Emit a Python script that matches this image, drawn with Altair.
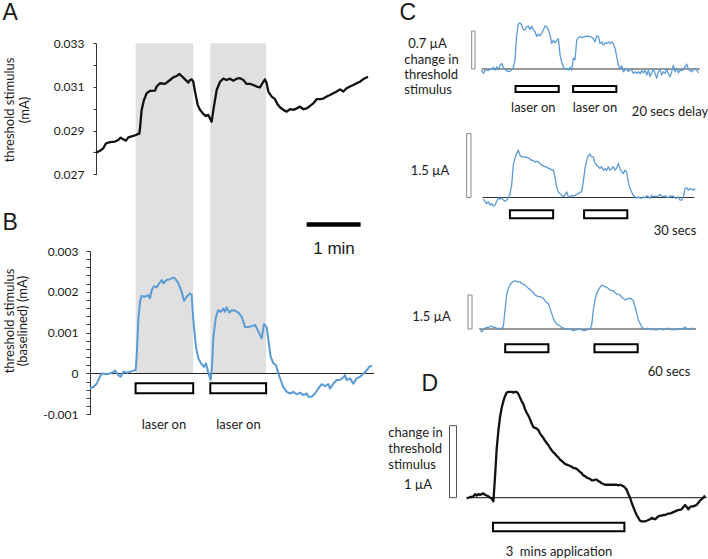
import altair as alt
import pandas as pd

FONT = "Lato"
BLUE = "#5b9bd5"
BAND = "#e0e0e0"
INK = "#1a1a1a"

# ---------------- A / B : threshold tracking (time in s, threshold in mA) ----------------
A_T = [0, 4.4, 8.1, 11.1, 15.6, 21.1, 24.8, 27.4, 30.4, 33.3, 35.9, 41.5, 44.4, 47.0, 48.1,
       48.9, 50.7, 53.3, 56.3, 60.0, 65.6, 67.4, 71.1, 76.7, 82.2, 85.9, 89.6, 92.6, 95.2,
       98.9, 102.6, 104.4, 106.3, 108.1, 110.0, 113.0, 115.6, 119.3, 122.2, 124.8, 126.7,
       128.5, 130.4, 134.1, 137.8, 141.5, 145.2, 148.9, 152.6, 156.3, 160.0, 163.7, 167.4,
       171.1, 174.8, 178.5, 182.2, 185.9, 187.8, 189.6, 191.5, 195.2, 198.9, 201.5, 204.4,
       208.1, 211.9, 215.6, 219.3, 223.0, 226.7, 230.4, 234.1, 237.8, 241.5, 245.2, 248.9,
       252.6, 256.3, 260.0, 263.7, 267.4, 271.1, 274.8, 278.5, 282.2, 285.9, 289.6, 293.3,
       297.8, 302.2]
A_MA = [0.02799, 0.02808, 0.02819, 0.02842, 0.02847, 0.02850, 0.02857, 0.02868, 0.02860,
        0.02854, 0.02869, 0.02876, 0.02880, 0.02885, 0.02885, 0.02911, 0.02995, 0.03040,
        0.03071, 0.03082, 0.03083, 0.03102, 0.03117, 0.03114, 0.03132, 0.03144, 0.03150,
        0.03160, 0.03150, 0.03135, 0.03120, 0.03132, 0.03135, 0.03124, 0.03079, 0.03018,
        0.02995, 0.02976, 0.02967, 0.02972, 0.02956, 0.02941, 0.02995, 0.03086, 0.03124,
        0.03138, 0.03132, 0.03138, 0.03129, 0.03138, 0.03140, 0.03132, 0.03114, 0.03114,
        0.03109, 0.03102, 0.03098, 0.03124, 0.03135, 0.03117, 0.03079, 0.03056, 0.03044,
        0.03022, 0.03007, 0.02995, 0.02987, 0.02998, 0.02995, 0.03002, 0.03010, 0.02998,
        0.03002, 0.03013, 0.03025, 0.03044, 0.03044, 0.03047, 0.03056, 0.03063, 0.03071,
        0.03079, 0.03089, 0.03079, 0.03094, 0.03102, 0.03109, 0.03117, 0.03124, 0.03138,
        0.03147]

B_T = [-6.7, -3.0, 0.7, 4.4, 6.3, 11.9, 15.6, 19.3, 21.1, 24.8, 27.4, 30.4, 34.1, 37.8,
       41.5, 44.1, 45.2, 47.0, 48.9, 50.7, 54.4, 58.1, 60.0, 61.9, 64.4, 67.4, 70.4, 73.0,
       74.8, 78.5, 82.2, 85.9, 87.8, 91.5, 95.2, 97.8, 100.7, 104.4, 106.3, 108.1, 111.1,
       113.7, 116.7, 120.0, 122.2, 124.8, 127.4, 128.9, 130.4, 133.3, 135.9, 138.5, 141.5,
       143.3, 145.2, 148.1, 150.7, 154.4, 158.1, 161.9, 165.6, 169.3, 173.0, 176.7, 179.3,
       182.2, 184.1, 186.7, 189.6, 191.5, 194.1, 197.0, 200.0, 202.6, 205.2, 208.1, 211.9,
       215.6, 219.3, 223.0, 226.7, 230.4, 234.1, 235.9, 239.6, 243.3, 247.0, 250.7, 254.4,
       258.1, 260.0, 263.7, 267.4, 271.1, 274.8, 276.7, 278.5, 282.2, 285.9, 289.6, 293.3,
       298.9, 304.4, 306.7]
B_MA = [-0.00037, -0.00033, -0.00025, -0.00008, 0.0, -0.00002, 0.0, 0.00004, 0.00007,
        -0.00004, -0.00008, 0.00004, 0.00002, 0.00004, 0.00007, 0.00008, 0.00041, 0.00131,
        0.00176, 0.00190, 0.00188, 0.00192, 0.00184, 0.00204, 0.00214, 0.00211, 0.00221,
        0.00229, 0.00221, 0.00229, 0.00231, 0.00235, 0.00233, 0.00221, 0.00200, 0.00178,
        0.00188, 0.00196, 0.00192, 0.00131, 0.00065, 0.00037, 0.00025, 0.00016, 0.00025,
        0.00002, -0.00016, 0.00016, 0.00090, 0.00139, 0.00155, 0.00151, 0.00159, 0.00151,
        0.00162, 0.00149, 0.00155, 0.00154, 0.00149, 0.00139, 0.00114, 0.00114, 0.00116,
        0.00119, 0.00108, 0.00094, 0.00086, 0.00121, 0.00114, 0.00082, 0.00041, 0.00025,
        0.00020, 0.0, -0.00016, -0.00033, -0.00045, -0.00049, -0.00045, -0.00051, -0.00047,
        -0.00053, -0.00049, -0.00057, -0.00057, -0.00049, -0.00037, -0.00026, -0.00031,
        -0.00026, -0.00037, -0.00025, -0.00016, -0.00016, -0.00010, -0.00004, -0.00016,
        -0.00012, -0.00025, -0.00012, -0.00008, 0.00003, 0.00018, 0.00018]

AB_LASER = [(44, 108), (127, 189)]
AB_ZERO = (-6.7, 309)
MINUTE_BAR = (234, 294)

A_TICKS = [0.027, 0.028, 0.029, 0.030, 0.031, 0.032, 0.033]
B_TICKS = [-0.001, -0.0008, -0.0006, -0.0004, -0.0002, 0.0, 0.0002, 0.0004, 0.0006, 0.0008,
           0.001, 0.0012, 0.0014, 0.0016, 0.0018, 0.002, 0.0022, 0.0024, 0.0026, 0.0028, 0.003]
B_LABELS = [(-0.001, "-0.001"), (0.0, "0"), (0.001, "0.001"), (0.002, "0.002"), (0.003, "0.003")]

# ---------------- C : laser responses, change in threshold (µA) ----------------
C_DT = 2.315   # sampling interval, s
C1_UA = [-0.02, -0.08, -0.03, -0.01, -0.03, 0.01, -0.01, 0.03, -0.02, 0.04,
         -0.01, 0.07, 0.10, 0.03, -0.01, -0.03, -0.05, -0.04, -0.01, 0.03,
         0.17, 0.63, 0.83, 0.85, 0.81, 0.72, 0.72, 0.78, 0.79, 0.73,
         0.79, 0.72, 0.69, 0.60, 0.64, 0.61, 0.66, 0.72, 0.79, 0.78,
         0.72, 0.63, 0.47, 0.53, 0.48, 0.53, 0.56, 0.26, 0.12, 0.04,
         -0.01, 0.01, -0.02, 0.03, -0.02, 0.20, 0.17, 0.53, 0.58, 0.60,
         0.58, 0.58, 0.60, 0.61, 0.60, 0.60, 0.58, 0.56, 0.50, 0.61,
         0.60, 0.47, 0.50, 0.44, 0.48, 0.47, 0.50, 0.47, 0.50, 0.46,
         0.38, 0.23, 0.07, 0.01, 0.06, -0.05, -0.02, 0.01, -0.05, -0.01,
         -0.02, -0.08, -0.05, -0.08, -0.05, -0.09, -0.03, -0.07, -0.02, -0.11,
         -0.02, -0.14, -0.07, 0.01, -0.08, -0.17, -0.05, -0.01, -0.11, -0.05,
         -0.08, 0.01, -0.09, -0.14, -0.05, 0.07, -0.05, 0.01, -0.07, -0.02,
         -0.03, -0.01, 0.04, 0.09, -0.01, -0.03, -0.05, -0.02, 0.01, -0.02, -0.07]
C2_UA = [-0.04, -0.10, -0.14, -0.10, -0.18, -0.14, -0.20, -0.18, -0.10, -0.01,
         -0.04, -0.01, -0.06, -0.09, -0.06, -0.01, 0.09, 0.29, 0.76, 0.91,
         1.03, 1.11, 0.99, 0.95, 0.95, 0.95, 0.94, 0.93, 0.90, 0.87,
         0.87, 0.83, 0.85, 0.83, 0.80, 0.76, 0.74, 0.72, 0.72, 0.68,
         0.68, 0.64, 0.65, 0.48, 0.25, 0.13, 0.09, 0.05, 0.02, 0.05,
         0.13, 0.02, 0.02, 0.05, 0.03, 0.05, 0.07, 0.09, 0.12, 0.13,
         0.37, 0.68, 0.87, 0.98, 1.02, 0.95, 0.95, 0.80, 0.76, 0.72,
         0.68, 0.72, 0.64, 0.68, 0.64, 0.72, 0.64, 0.68, 0.72, 0.64,
         0.69, 0.80, 0.68, 0.60, 0.56, 0.64, 0.60, 0.37, 0.21, 0.13,
         0.05, 0.02, -0.02, 0.02, -0.01, -0.02, 0.02, -0.01, 0.04, 0.02,
         -0.02, 0.05, 0.02, 0.03, 0.02, 0.04, 0.07, 0.03, 0.02, 0.04,
         0.02, -0.01, 0.04, 0.02, 0.04, -0.01, -0.02, 0.02, -0.06, -0.06,
         0.02, 0.21, 0.23, 0.17, 0.21, 0.20, 0.17, 0.21]
C3_UA = [-0.07, -0.12, -0.04, 0.03, 0.07, 0.07, 0.10, 0.13, 0.07, 0.07,
         0.03, 0.03, 0.03, 0.03, 0.10, 0.84, 1.50, 1.79, 1.94, 2.04,
         2.09, 2.13, 2.10, 2.07, 2.09, 2.01, 1.98, 1.94, 1.87, 1.79,
         1.75, 1.69, 1.60, 1.50, 1.46, 1.43, 1.43, 1.40, 1.35, 1.25,
         1.16, 1.13, 0.91, 0.69, 0.47, 0.32, 0.22, 0.18, 0.13, 0.07,
         0.03, 0.03, -0.01, 0.01, -0.01, -0.04, -0.07, -0.04, -0.04, -0.01,
         -0.01, -0.04, -0.07, -0.07, -0.04, -0.01, -0.01, 0.18, 0.84, 1.28,
         1.57, 1.72, 1.84, 1.94, 1.90, 1.87, 1.84, 1.79, 1.72, 1.69,
         1.69, 1.60, 1.54, 1.54, 1.50, 1.40, 1.35, 1.28, 1.31, 1.35,
         1.35, 1.31, 1.25, 0.98, 0.69, 0.40, 0.25, 0.10, 0.03, -0.01,
         0.03, 0.03, -0.01, -0.04, -0.01, -0.04, -0.04, -0.01, 0.01, -0.01,
         -0.04, -0.01, 0.03, 0.03, -0.01, -0.04, -0.01, -0.04, -0.01, 0.01,
         0.00, -0.01, 0.03, 0.07, 0.03, -0.01, 0.00, 0.03, 0.03]
C1_LASER = [(47, 107), (127, 187)]
C2_LASER = [(37, 97), (140, 200)]
C3_LASER = [(35, 95), (159, 219)]
C1_SPAN, C2_SPAN, C3_SPAN = (0, 303), (-1, 293), (-1, 300)

# ---------------- D : 3 min application ----------------
D_DT = 2.283
D_UA = [-0.01, 0.00, 0.01, 0.01, 0.02, 0.05, 0.03, 0.05, 0.04, 0.05,
        0.06, 0.04, 0.03, 0.02, 0.00, -0.01, -0.05, 0.29, 0.68, 0.93,
        1.12, 1.25, 1.34, 1.41, 1.46, 1.47, 1.47, 1.47, 1.46, 1.47,
        1.47, 1.44, 1.39, 1.34, 1.30, 1.23, 1.18, 1.14, 1.09, 1.03,
        0.98, 0.97, 0.96, 0.94, 0.89, 0.86, 0.83, 0.79, 0.76, 0.73,
        0.69, 0.66, 0.63, 0.61, 0.58, 0.56, 0.53, 0.51, 0.49, 0.47,
        0.46, 0.45, 0.44, 0.43, 0.41, 0.41, 0.40, 0.38, 0.36, 0.34,
        0.31, 0.30, 0.28, 0.27, 0.26, 0.24, 0.24, 0.25, 0.25, 0.23,
        0.22, 0.20, 0.19, 0.18, 0.18, 0.18, 0.18, 0.18, 0.18, 0.18,
        0.18, 0.17, 0.18, 0.17, 0.16, 0.14, 0.11, 0.05, 0.00, -0.07,
        -0.13, -0.19, -0.24, -0.28, -0.32, -0.33, -0.33, -0.33, -0.32, -0.31,
        -0.30, -0.28, -0.29, -0.30, -0.28, -0.26, -0.25, -0.25, -0.24, -0.24,
        -0.23, -0.22, -0.22, -0.21, -0.20, -0.19, -0.18, -0.17, -0.17, -0.16,
        -0.13, -0.10, -0.13, -0.16, -0.13, -0.12, -0.12, -0.11, -0.10, -0.07,
        -0.04, -0.02, 0.00, 0.03]
D_APPLY = [(36, 216)]
D_SPAN = (0, 329)


def scale(domain, rng):
    return alt.Scale(domain=domain, range=rng, nice=False, zero=False)


AB_X = scale([-10, 310], [87, 375])
A_Y = scale([0.027, 0.033], [174.3, 43.3])
B_Y = scale([-0.001, 0.003], [414.3, 251])
C1_X, C1_Y = scale([0, 300], [481.7, 697.7]), scale([0, 1], [69, 14.7])
C2_X, C2_Y = scale([0, 300], [483.3, 699.3]), scale([0, 1.5], [197.5, 133.5])
C3_X, C3_Y = scale([0, 300], [480, 696]), scale([0, 1.5], [329, 295])
D_X, D_Y = scale([0, 330], [466.7, 707.6]), scale([0, 1], [497.7, 425.7])


def trace(t, v, xs, ys, color, width, axis=None):
    df = pd.DataFrame({"t": t, "v": v})
    return alt.Chart(df).mark_line(color=color, strokeWidth=width, strokeJoin="round").encode(
        x=alt.X("t:Q", scale=xs, axis=None),
        y=alt.Y("v:Q", scale=ys, axis=axis),
    )


def sampled(values, dt):
    return [round(i * dt, 3) for i in range(len(values))]


def boxes(periods, xs, y0, y1):
    df = pd.DataFrame({"start": [p[0] for p in periods], "end": [p[1] for p in periods]})
    return alt.Chart(df).mark_rect(fill="white", stroke="black", strokeWidth=2).encode(
        x=alt.X("start:Q", scale=xs, axis=None), x2="end:Q",
        y=alt.value(y0), y2=alt.value(y1),
    )


def baseline(span, xs, ys, color="#222", width=1):
    df = pd.DataFrame({"a": [span[0]], "b": [span[1]], "z": [0.0]})
    return alt.Chart(df).mark_rule(color=color, strokeWidth=width).encode(
        x=alt.X("a:Q", scale=xs, axis=None), x2="b:Q",
        y=alt.Y("z:Q", scale=ys, axis=None),
    )


def amp_bar(amount, ys, x0, x1, stroke):
    df = pd.DataFrame({"lo": [0.0], "hi": [amount]})
    return alt.Chart(df).mark_rect(fill="white", stroke=stroke, strokeWidth=1).encode(
        x=alt.value(x0), x2=alt.value(x1),
        y=alt.Y("lo:Q", scale=ys, axis=None), y2="hi:Q",
    )


def note(text, x, y, size=13, font=FONT, align="center", baseline="alphabetic", angle=0):
    df = pd.DataFrame({"label": [text]})
    return alt.Chart(df).mark_text(
        font=font, fontSize=size, align=align, baseline=baseline, angle=angle, color=INK
    ).encode(x=alt.value(x), y=alt.value(y), text="label:N")


axis_style = dict(
    orient="left", title=None, grid=False, labelFont=FONT, labelFontSize=12,
    labelColor=INK, domainColor="#333", tickColor="#333", labelOverlap=False,
    labelBound=False, labelFlush=False,
)
A_AXIS = alt.Axis(
    offset=-96, values=A_TICKS, tickSize=3, labelPadding=9,
    labelExpr="round(datum.value * 1000) % 2 == 1 ? format(datum.value, '.3f') : ''",
    **axis_style,
)
b_expr = "''"
for val, lab in B_LABELS:
    b_expr = f"round(datum.value * 10000) == {round(val * 10000)} ? '{lab}' : ({b_expr})"
B_AXIS = alt.Axis(offset=-90, values=B_TICKS, tickSize=4, labelPadding=8, labelExpr=b_expr, **axis_style)

band_df = pd.DataFrame({"start": [p[0] for p in AB_LASER], "end": [p[1] for p in AB_LASER]})
bands = alt.Chart(band_df).mark_rect(color=BAND).encode(
    x=alt.X("start:Q", scale=AB_X, axis=None), x2="end:Q",
    y=alt.value(43.3), y2=alt.value(373.3),
)

minute_df = pd.DataFrame({"a": [MINUTE_BAR[0]], "b": [MINUTE_BAR[1]]})
minute_bar = alt.Chart(minute_df).mark_rule(color="black", strokeWidth=4.3).encode(
    x=alt.X("a:Q", scale=AB_X, axis=None), x2="b:Q", y=alt.value(224.5)
)

layers = [
    bands,
    trace(A_T, A_MA, AB_X, A_Y, "#111", 2.3, A_AXIS),
    baseline(AB_ZERO, AB_X, B_Y, "#222", 1),
    trace(B_T, B_MA, AB_X, B_Y, BLUE, 2, B_AXIS),
    boxes(AB_LASER, AB_X, 383.3, 393.3),
    minute_bar,
    # C, 20 s delay
    baseline(C1_SPAN, C1_X, C1_Y, "#333", 1),
    trace(sampled(C1_UA, C_DT), C1_UA, C1_X, C1_Y, BLUE, 1.3),
    amp_bar(0.7, C1_Y, 471.7, 475, "#888"),
    boxes(C1_LASER, C1_X, 86, 92),
    # C, 30 s
    baseline(C2_SPAN, C2_X, C2_Y, "#333", 1),
    trace(sampled(C2_UA, C_DT), C2_UA, C2_X, C2_Y, BLUE, 1.3),
    amp_bar(1.5, C2_Y, 466.7, 471, "#888"),
    boxes(C2_LASER, C2_X, 210.3, 218.3),
    # C, 60 s
    baseline(C3_SPAN, C3_X, C3_Y, "#333", 1),
    trace(sampled(C3_UA, C_DT), C3_UA, C3_X, C3_Y, BLUE, 1.3),
    amp_bar(1.5, C3_Y, 468, 472, "#888"),
    boxes(C3_LASER, C3_X, 344.3, 352.3),
    # D
    baseline(D_SPAN, D_X, D_Y, "#111", 1),
    trace(sampled(D_UA, D_DT), D_UA, D_X, D_Y, "#111", 2.3),
    amp_bar(1.0, D_Y, 449.5, 456.5, "#555"),
    boxes(D_APPLY, D_X, 522.7, 531.3),
    # lettering
    note("A", 2.5, 20, 23, "Liberation Sans", "left"),
    note("B", 2.5, 230, 23, "Liberation Sans", "left"),
    note("C", 399.5, 20, 23, "Liberation Sans", "left"),
    note("D", 421.5, 391, 23, "Liberation Sans", "left"),
    note("threshold stimulus", 9.5, 110, baseline="middle", angle=270),
    note("(mA)", 25, 110, baseline="middle", angle=270),
    note("threshold stimulus", 9.5, 321, baseline="middle", angle=270),
    note("(baselined) (mA)", 23, 321, baseline="middle", angle=270),
    note("laser on", 164, 429),
    note("laser on", 238.5, 429),
    note("1 min", 334, 254, 17, "Liberation Sans"),
    note("0.7 µA", 427.5, 47.5),
    note("change in", 404.3, 64, align="left"),
    note("threshold", 404.3, 79, align="left"),
    note("stimulus", 404.3, 94.3, align="left"),
    note("laser on", 533.3, 111.7),
    note("laser on", 595, 111.7),
    note("20 secs delay", 670, 115.5),
    note("1.5 µA", 430, 175),
    note("30 secs", 675, 235),
    note("1.5 µA", 431.5, 321),
    note("60 secs", 669, 376),
    note("change in", 388.3, 436.7, align="left"),
    note("threshold", 388.3, 453.3, align="left"),
    note("stimulus", 388.3, 469, align="left"),
    note("1 µA", 418, 488.5),
    note("3\u00a0 mins application", 559, 556),
]

chart = (
    alt.layer(*layers)
    .resolve_scale(x="independent", y="independent")
    .properties(width=708, height=559, autosize="none", padding=0, background="white")
    .configure_view(stroke=None)
)

chart.save("out.html", embed_options={"renderer": "svg", "actions": False})
